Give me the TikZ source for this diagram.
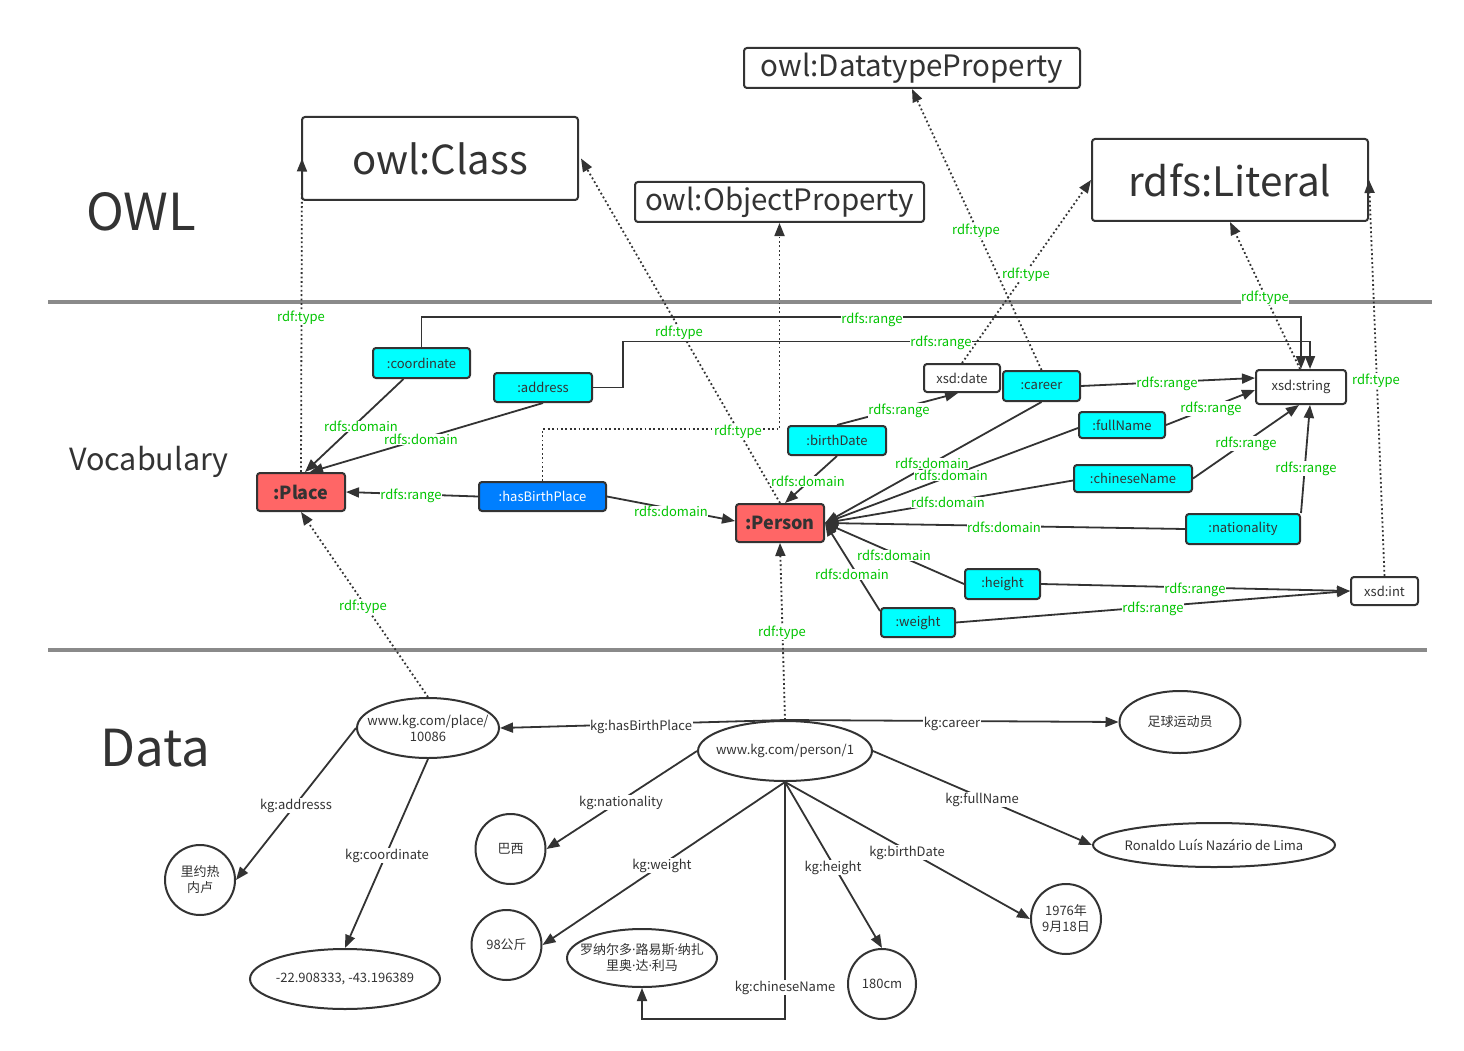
\documentclass[tikz,border=0pt]{standalone}
\usepackage{fontspec}
\setmainfont{Noto Sans CJK SC}
\newfontfamily\latinf{Noto Sans}
\usetikzlibrary{arrows.meta,calc,shapes.geometric}
\definecolor{ink}{HTML}{333333}
\definecolor{lgreen}{HTML}{00C400}
\definecolor{cyanbox}{HTML}{00FFFF}
\definecolor{bluebox}{HTML}{007FFF}
\definecolor{redbox}{HTML}{FF6666}
\definecolor{sepgray}{HTML}{8A8A8A}
\newcommand{\mdt}{{\latinf ·}}
\begin{document}
\begin{tikzpicture}[x=1pt,y=-1pt,
  every node/.style={text=ink, font=\fontsize{13}{16}\selectfont},
  box/.style={draw=ink, line width=2pt, rounded corners=3pt, inner sep=0pt, align=center},
  topbox/.style={box, fill=white},
  wbox/.style={box, fill=white},
  cbox/.style={box, fill=cyanbox},
  bbox/.style={box, fill=bluebox, text=white},
  rbox/.style={box, fill=redbox, font=\fontsize{18}{20}\selectfont\bfseries},
  ell/.style={ellipse, draw=ink, line width=2pt, inner sep=0pt, fill=white},
  etext/.style={label={[align=center]center:#1}},
  arr/.style={draw=ink, line width=1.8pt, -{Triangle[length=13pt,width=10pt]}},
  dotarr/.style={arr, dash pattern=on 1.8pt off 2.6pt},
  lbl/.style={text=lgreen, fill=white, inner sep=0.5pt, yshift=-1.5pt},
  dlbl/.style={fill=white, inner sep=0.5pt, yshift=-1.5pt},
  title/.style={font=\fontsize{51}{56}\selectfont}
]
\useasboundingbox (0,0) rectangle (1464,1051);
\fill[white] (0,0) rectangle (1464,1051);

% separators
\draw[sepgray, line width=4pt] (48,302) -- (1432,302);
\draw[sepgray, line width=4pt] (48,650) -- (1427,650);

% section titles
\node[title] (tOWL) at (141,212) {OWL};
\node[font=\fontsize{30.5}{34}\selectfont] (tVoc) at (149,462) {Vocabulary};
\node[title] (tData) at (155,748) {Data};

% OWL boxes
\node[topbox, minimum width=276, minimum height=83, font=\fontsize{40}{44}\selectfont] (cls) at (440,158.5) {owl:Class};
\node[topbox, minimum width=289, minimum height=40, font=\fontsize{29.5}{33}\selectfont] (objp) at (779.5,202) {owl:ObjectProperty};
\node[topbox, minimum width=336, minimum height=40, font=\fontsize{29.5}{33}\selectfont] (dtp) at (912,68) {owl:DatatypeProperty};
\node[topbox, minimum width=276, minimum height=82, font=\fontsize{40.5}{44}\selectfont] (lit) at (1230,180) {rdfs:Literal};

% vocabulary nodes
\node[rbox, minimum width=88, minimum height=38] (place) at (301,492) {:Place};
\node[rbox, minimum width=88, minimum height=38] (person) at (780,523) {:Person};
\node[cbox, minimum width=97, minimum height=30] (coord) at (421.5,363) {:coordinate};
\node[cbox, minimum width=98, minimum height=29] (addr) at (543,387.5) {:address};
\node[bbox, minimum width=127, minimum height=29] (hbp) at (542.5,496.5) {:hasBirthPlace};
\node[cbox, minimum width=98, minimum height=29] (bdate) at (837,440.5) {:birthDate};
\node[wbox, minimum width=76, minimum height=28] (xdate) at (962,378) {xsd:date};
\node[cbox, minimum width=77, minimum height=30] (career) at (1041.5,386) {:career};
\node[wbox, minimum width=90, minimum height=34] (xstr) at (1301,387) {xsd:string};
\node[cbox, minimum width=86, minimum height=26] (fname) at (1122,425) {:fullName};
\node[cbox, minimum width=118, minimum height=27] (cname) at (1133,478.5) {:chineseName};
\node[cbox, minimum width=114, minimum height=30] (nat) at (1243,529) {:nationality};
\node[cbox, minimum width=75, minimum height=30] (height) at (1002.5,584) {:height};
\node[cbox, minimum width=74, minimum height=29] (weight) at (918,622.5) {:weight};
\node[wbox, minimum width=67, minimum height=28] (xint) at (1384.5,591) {xsd:int};

% data nodes
\node[ell, minimum width=142, minimum height=60, etext={www.kg.com/place/\\10086}] (pl) at (428,728) {};
\node[ell, minimum width=174, minimum height=60, etext={www.kg.com/person/1}] (pe) at (785,751) {};
\node[ell, minimum width=121, minimum height=62, etext={足球运动员}] (car) at (1180,722) {};
\node[ell, minimum width=242, minimum height=44, etext={Ronaldo Luís Nazário de Lima}] (fn) at (1214,845) {};
\node[ell, minimum width=70, minimum height=70, etext={1976年\\9月18日}] (bd) at (1066,919) {};
\node[ell, minimum width=68, minimum height=70, etext={180cm}] (h180) at (882,984) {};
\node[ell, minimum width=150, minimum height=58, etext={罗纳尔多\mdt 路易斯\mdt 纳扎\\里奥\mdt 达\mdt 利马}] (cn) at (642,958) {};
\node[ell, minimum width=70, minimum height=70, etext={98公斤}] (w98) at (506.5,945) {};
\node[ell, minimum width=70, minimum height=70, etext={巴西}] (bx) at (510.5,849) {};
\node[ell, minimum width=70, minimum height=70, etext={里约热\\内卢}] (rio) at (200,880) {};
\node[ell, minimum width=190, minimum height=60, etext={-22.908333, -43.196389}] (co) at (345,979) {};

% vocabulary solid connectors
\draw[arr] ($(coord.south)+(-18,0)$) -- ($(place.north)+(4,0)$);
\draw[arr] (addr.south) -- ($(place.north)+(9,0)$);
\draw[arr] (hbp.west) -- (place.east);
\draw[arr] (hbp.east) -- ($(person.west)+(0,-2)$);
\draw[arr] (coord.north) -- ++(0,-30) -| (xstr.north);
\draw[arr] (addr.east) -- ++(30,0) -- ++(0,-46) -| ($(xstr.north)+(9,0)$);
\draw[arr] (bdate.north) -- ($(xdate.south)+(-4,0)$);
\draw[arr] (bdate.south) -- ($(person.north)+(5,0)$);
\draw[arr] (career.south) -- (person.east);
\draw[arr] ($(fname.west)+(0,3)$) -- (person.east);
\draw[arr] ($(cname.west)+(0,2)$) -- (person.east);
\draw[arr] (nat.west) -- (person.east);
\draw[arr] (height.west) -- (person.east);
\draw[arr] ($(weight.north west)+(0,4)$) -- (person.east);
\draw[arr] (career.east) -- ($(xstr.west)+(0,-9)$);
\draw[arr] (fname.east) -- ($(xstr.west)+(0,3)$);
\draw[arr] (cname.east) -- ($(xstr.south)+(-2,0)$);
\draw[arr] (nat.north east) -- ($(xstr.south)+(9,0)$);
\draw[arr] (height.east) -- (xint.west);
\draw[arr] (weight.east) -- (xint.west);

% rdf:type dotted connectors
\draw[dotarr] (place.north) -- ($(cls.west)+(1,0)$);
\draw[dotarr] (person.north) -- ($(cls.east)+(2,0)$);
\draw[dotarr] (hbp.north) -- ++(0,-52) -| (objp.south);
\draw[dotarr] (career.north) -- (dtp.south);
\draw[dotarr] (xdate.north) -- (lit.west);
\draw[dotarr] ($(xstr.north)+(-1,0)$) -- (lit.south);
\draw[dotarr] (xint.north) -- (lit.east);
\draw[dotarr] (pl.north) -- (place.south);
\draw[dotarr] (pe.north) -- (person.south);

% data connectors
\draw[arr] (pe.north) -- (pl.east);
\draw[arr] (pe.north) -- (car.west);
\draw[arr] (pe.west) -- (bx.east);
\draw[arr] (pe.south) -- (w98.east);
\draw[arr] (pe.south) -- ++(0,237) -| (cn.south);
\draw[arr] (pe.south) -- (h180.north);
\draw[arr] (pe.south) -- (bd.west);
\draw[arr] (pe.east) -- (fn.west);
\draw[arr] (pl.west) -- (rio.east);
\draw[arr] (pl.south) -- (co.north);

% green labels
\node[lbl] (L1) at (301,316) {rdf:type};
\node[lbl] (L2) at (679,331) {rdf:type};
\node[lbl] (L3) at (872,318) {rdfs:range};
\node[lbl] (L4) at (941,341) {rdfs:range};
\node[lbl] (L5) at (738,430) {rdf:type};
\node[lbl] (L6) at (361,425) {rdfs:domain};
\node[lbl] (L7) at (421,438) {rdfs:domain};
\node[lbl] (L8) at (411,494) {rdfs:range};
\node[lbl] (L9) at (671,510) {rdfs:domain};
\node[lbl] (L10) at (899,409) {rdfs:range};
\node[lbl] (L11) at (808,480) {rdfs:domain};
\node[lbl] (L12) at (932,462) {rdfs:domain};
\node[lbl] (L13) at (951,474) {rdfs:domain};
\node[lbl] (L14) at (948,501) {rdfs:domain};
\node[lbl] (L15) at (1004,526) {rdfs:domain};
\node[lbl] (L16) at (894,554) {rdfs:domain};
\node[lbl] (L17) at (852,573) {rdfs:domain};
\node[lbl] (L18) at (1167,382) {rdfs:range};
\node[lbl] (L19) at (1211,407) {rdfs:range};
\node[lbl] (L20) at (1246,442) {rdfs:range};
\node[lbl] (L21) at (1306,467) {rdfs:range};
\node[lbl] (L22) at (1195,588) {rdfs:range};
\node[lbl] (L23) at (1153,607) {rdfs:range};
\node[lbl] (L24) at (976,229) {rdf:type};
\node[lbl] (L25) at (1026,273) {rdf:type};
\node[lbl] (L26) at (1265,296) {rdf:type};
\node[lbl] (L27) at (1376,379) {rdf:type};
\node[lbl] (L28) at (363,605) {rdf:type};
\node[lbl] (L29) at (782,631) {rdf:type};

% data labels
\node[dlbl] (D1) at (641,725) {kg:hasBirthPlace};
\node[dlbl] (D2) at (952,722) {kg:career};
\node[dlbl] (D3) at (621,801) {kg:nationality};
\node[dlbl] (D4) at (662,864) {kg:weight};
\node[dlbl] (D5) at (785,986) {kg:chineseName};
\node[dlbl] (D6) at (833,866) {kg:height};
\node[dlbl] (D7) at (907,851) {kg:birthDate};
\node[dlbl] (D8) at (982,798) {kg:fullName};
\node[dlbl] (D9) at (296,804) {kg:addresss};
\node[dlbl] (D10) at (387,854) {kg:coordinate};
\end{tikzpicture}
\end{document}
